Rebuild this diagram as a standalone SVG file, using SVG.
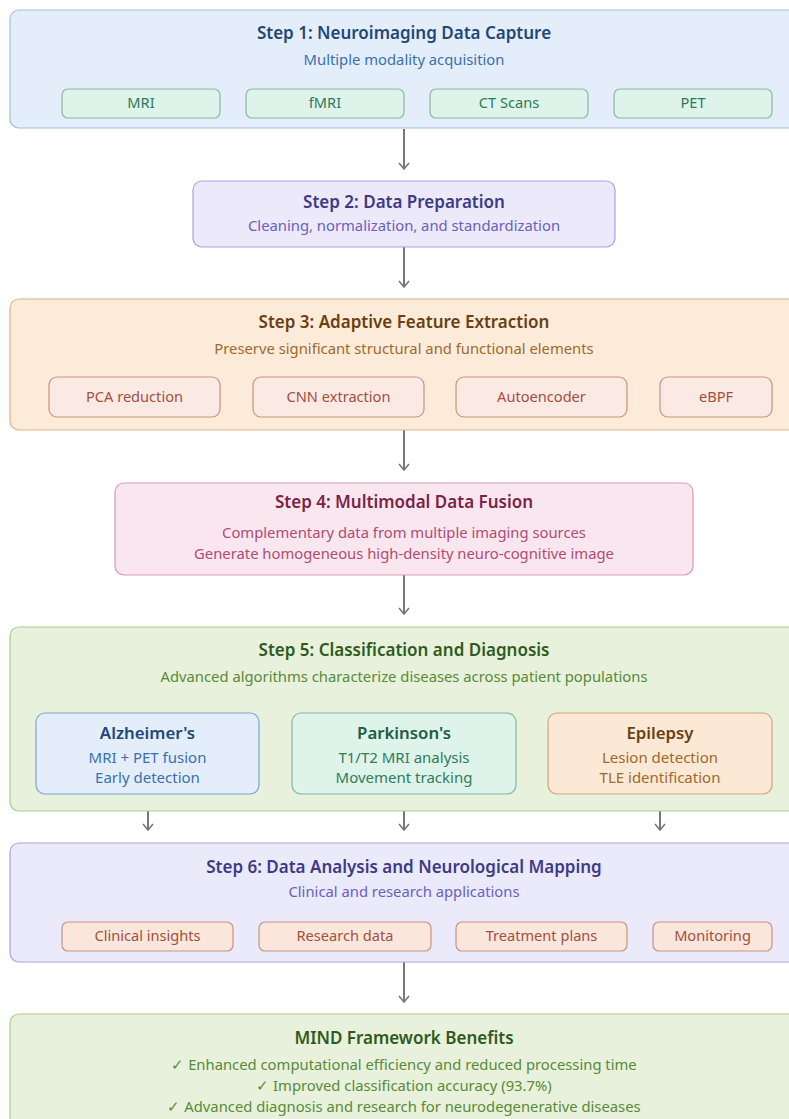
<svg xmlns="http://www.w3.org/2000/svg" width="789" height="1119" viewBox="0 0 789 1119">
  <style>
    text { font-family: "Noto Sans", "Open Sans", "Liberation Sans", sans-serif; text-anchor: middle; }
    .title { font-size: 17px; font-weight: 600; }
    .sub { font-size: 14.8px; }
    .pill { font-size: 14.6px; }
    .dtitle { font-size: 16.8px; font-weight: 600; }
    .dline { font-size: 15px; }
    .conn { stroke: #787878; stroke-width: 2; fill: none; marker-end: url(#arrow); }

    .blue-box { fill: #e4eefa; stroke: #a3bcdc; stroke-width: 1.2; }
    .blue-t { fill: #1f4778; }
    .blue-s { fill: #3a70ad; }
    .mint-pill { fill: #def3ea; stroke: #86bba4; stroke-width: 1.2; }
    .mint-t { fill: #2d7a58; }
    .violet-box { fill: #ece9fb; stroke: #aaa2e0; stroke-width: 1.2; }
    .violet-t { fill: #3e3a86; }
    .violet-s { fill: #6a60bf; }
    .amber-box { fill: #fcebd9; stroke: #d9b48c; stroke-width: 1.2; }
    .amber-t { fill: #6a4012; }
    .amber-s { fill: #a06a2c; }
    .rose-pill { fill: #fbe9e4; stroke: #c99382; stroke-width: 1.2; }
    .rose-t { fill: #a3503c; }
    .pink-box { fill: #fae6ee; stroke: #d89cb2; stroke-width: 1.2; }
    .pink-t { fill: #7a2444; }
    .pink-s { fill: #b04c72; }
    .green-box { fill: #e7f1db; stroke: #abca91; stroke-width: 1.2; }
    .green-t { fill: #2f5a1b; }
    .green-s { fill: #5a8a3a; }
    .teal-box { fill: #def3ea; stroke: #7fb8a0; stroke-width: 1.2; }
    .teal-t { fill: #1f5c45; }
    .teal-s { fill: #2e7d5b; }
    .peach-box { fill: #fbe8d5; stroke: #d3a37c; stroke-width: 1.2; }
    .sky-box { fill: #e3eefa; stroke: #80a5d0; stroke-width: 1.2; }
    .lav-box { fill: #ebeafb; stroke: #aaa5dc; stroke-width: 1.2; }
    .coral-pill { fill: #fbe6dc; stroke: #c99382; stroke-width: 1.2; }
  </style>
  <defs>
    <!-- open chevron arrowhead, drawn along +x so orient="auto" follows the line -->
    <marker id="arrow" viewBox="0 0 12 12" refX="11" refY="6" markerWidth="12" markerHeight="12" markerUnits="userSpaceOnUse" orient="auto">
      <polyline points="5,1 11,6 5,11" fill="none" stroke="#787878" stroke-width="1.6"/>
    </marker>
  </defs>

  <rect width="789" height="1119" fill="#ffffff"/>

  <!-- Connectors -->
  <g id="connectors">
    <line class="conn" x1="404" y1="129" x2="404" y2="169"/>
    <line class="conn" x1="404" y1="247" x2="404" y2="287"/>
    <line class="conn" x1="404" y1="430" x2="404" y2="470"/>
    <line class="conn" x1="404" y1="575" x2="404" y2="614"/>
    <line class="conn" x1="148" y1="794" x2="148" y2="830"/>
    <line class="conn" x1="404" y1="794" x2="404" y2="830"/>
    <line class="conn" x1="660" y1="794" x2="660" y2="830"/>
    <line class="conn" x1="404" y1="962" x2="404" y2="1002"/>
  </g>

  <!-- Step 1 -->
  <g id="step1">
    <rect class="blue-box" x="10" y="10" width="788" height="118" rx="9"/>
    <text class="title blue-t" x="404" y="39">Step 1: Neuroimaging Data Capture</text>
    <text class="sub blue-s" x="404" y="65">Multiple modality acquisition</text>
    <g id="mod-mri">
      <rect class="mint-pill" x="62" y="89" width="158" height="29" rx="6"/>
      <text class="pill mint-t" x="141" y="108">MRI</text>
    </g>
    <g id="mod-fmri">
      <rect class="mint-pill" x="246" y="89" width="158" height="29" rx="6"/>
      <text class="pill mint-t" x="325" y="108">fMRI</text>
    </g>
    <g id="mod-ct">
      <rect class="mint-pill" x="430" y="89" width="158" height="29" rx="6"/>
      <text class="pill mint-t" x="509" y="108">CT Scans</text>
    </g>
    <g id="mod-pet">
      <rect class="mint-pill" x="614" y="89" width="158" height="29" rx="6"/>
      <text class="pill mint-t" x="693" y="108">PET</text>
    </g>
  </g>

  <!-- Step 2 -->
  <g id="step2">
    <rect class="violet-box" x="193" y="181" width="422" height="66" rx="9"/>
    <text class="title violet-t" x="404" y="208">Step 2: Data Preparation</text>
    <text class="sub violet-s" x="404" y="231">Cleaning, normalization, and standardization</text>
  </g>

  <!-- Step 3 -->
  <g id="step3">
    <rect class="amber-box" x="10" y="299" width="788" height="131" rx="9"/>
    <text class="title amber-t" x="404" y="328">Step 3: Adaptive Feature Extraction</text>
    <text class="sub amber-s" x="404" y="354">Preserve significant structural and functional elements</text>
    <g id="feat-pca">
      <rect class="rose-pill" x="49" y="377" width="171" height="40" rx="8"/>
      <text class="pill rose-t" x="134.5" y="402">PCA reduction</text>
    </g>
    <g id="feat-cnn">
      <rect class="rose-pill" x="253" y="377" width="171" height="40" rx="8"/>
      <text class="pill rose-t" x="338.5" y="402">CNN extraction</text>
    </g>
    <g id="feat-ae">
      <rect class="rose-pill" x="456" y="377" width="171" height="40" rx="8"/>
      <text class="pill rose-t" x="541.5" y="402">Autoencoder</text>
    </g>
    <g id="feat-ebpf">
      <rect class="rose-pill" x="660" y="377" width="112" height="40" rx="8"/>
      <text class="pill rose-t" x="716" y="402">eBPF</text>
    </g>
  </g>

  <!-- Step 4 -->
  <g id="step4">
    <rect class="pink-box" x="115" y="483" width="578" height="92" rx="9"/>
    <text class="title pink-t" x="404" y="508">Step 4: Multimodal Data Fusion</text>
    <text class="sub pink-s" x="404" y="538">Complementary data from multiple imaging sources</text>
    <text class="sub pink-s" x="404" y="559">Generate homogeneous high-density neuro-cognitive image</text>
  </g>

  <!-- Step 5 -->
  <g id="step5">
    <rect class="green-box" x="10" y="627" width="788" height="184" rx="9"/>
    <text class="title green-t" x="404" y="656">Step 5: Classification and Diagnosis</text>
    <text class="sub green-s" x="404" y="682">Advanced algorithms characterize diseases across patient populations</text>
    <g id="dx-alzheimers">
      <rect class="sky-box" x="36" y="713" width="223" height="81" rx="9"/>
      <text class="dtitle blue-t" x="147.5" y="739">Alzheimer's</text>
      <text class="dline blue-s" x="147.5" y="763">MRI + PET fusion</text>
      <text class="dline blue-s" x="147.5" y="783">Early detection</text>
    </g>
    <g id="dx-parkinsons">
      <rect class="teal-box" x="292" y="713" width="224" height="81" rx="9"/>
      <text class="dtitle teal-t" x="404" y="739">Parkinson's</text>
      <text class="dline teal-s" x="404" y="763">T1/T2 MRI analysis</text>
      <text class="dline teal-s" x="404" y="783">Movement tracking</text>
    </g>
    <g id="dx-epilepsy">
      <rect class="peach-box" x="548" y="713" width="224" height="81" rx="9"/>
      <text class="dtitle amber-t" x="660" y="739">Epilepsy</text>
      <text class="dline amber-s" x="660" y="763">Lesion detection</text>
      <text class="dline amber-s" x="660" y="783">TLE identification</text>
    </g>
  </g>

  <!-- Step 6 -->
  <g id="step6">
    <rect class="lav-box" x="10" y="843" width="788" height="119" rx="9"/>
    <text class="title violet-t" x="404" y="873">Step 6: Data Analysis and Neurological Mapping</text>
    <text class="sub violet-s" x="404" y="897">Clinical and research applications</text>
    <g id="out-clinical">
      <rect class="coral-pill" x="62" y="922" width="171" height="29" rx="6"/>
      <text class="pill rose-t" x="147.5" y="941">Clinical insights</text>
    </g>
    <g id="out-research">
      <rect class="coral-pill" x="259" y="922" width="172" height="29" rx="6"/>
      <text class="pill rose-t" x="345" y="941">Research data</text>
    </g>
    <g id="out-treatment">
      <rect class="coral-pill" x="456" y="922" width="171" height="29" rx="6"/>
      <text class="pill rose-t" x="541.5" y="941">Treatment plans</text>
    </g>
    <g id="out-monitoring">
      <rect class="coral-pill" x="653" y="922" width="119" height="29" rx="6"/>
      <text class="pill rose-t" x="712.5" y="941">Monitoring</text>
    </g>
  </g>

  <!-- Benefits -->
  <g id="benefits">
    <rect class="green-box" x="10" y="1014" width="788" height="130" rx="9"/>
    <text class="title green-t" x="404" y="1044">MIND Framework Benefits</text>
    <text class="sub green-s" x="404" y="1070">✓ Enhanced computational efficiency and reduced processing time</text>
    <text class="sub green-s" x="404" y="1091">✓ Improved classification accuracy (93.7%)</text>
    <text class="sub green-s" x="404" y="1112">✓ Advanced diagnosis and research for neurodegenerative diseases</text>
  </g>
</svg>
